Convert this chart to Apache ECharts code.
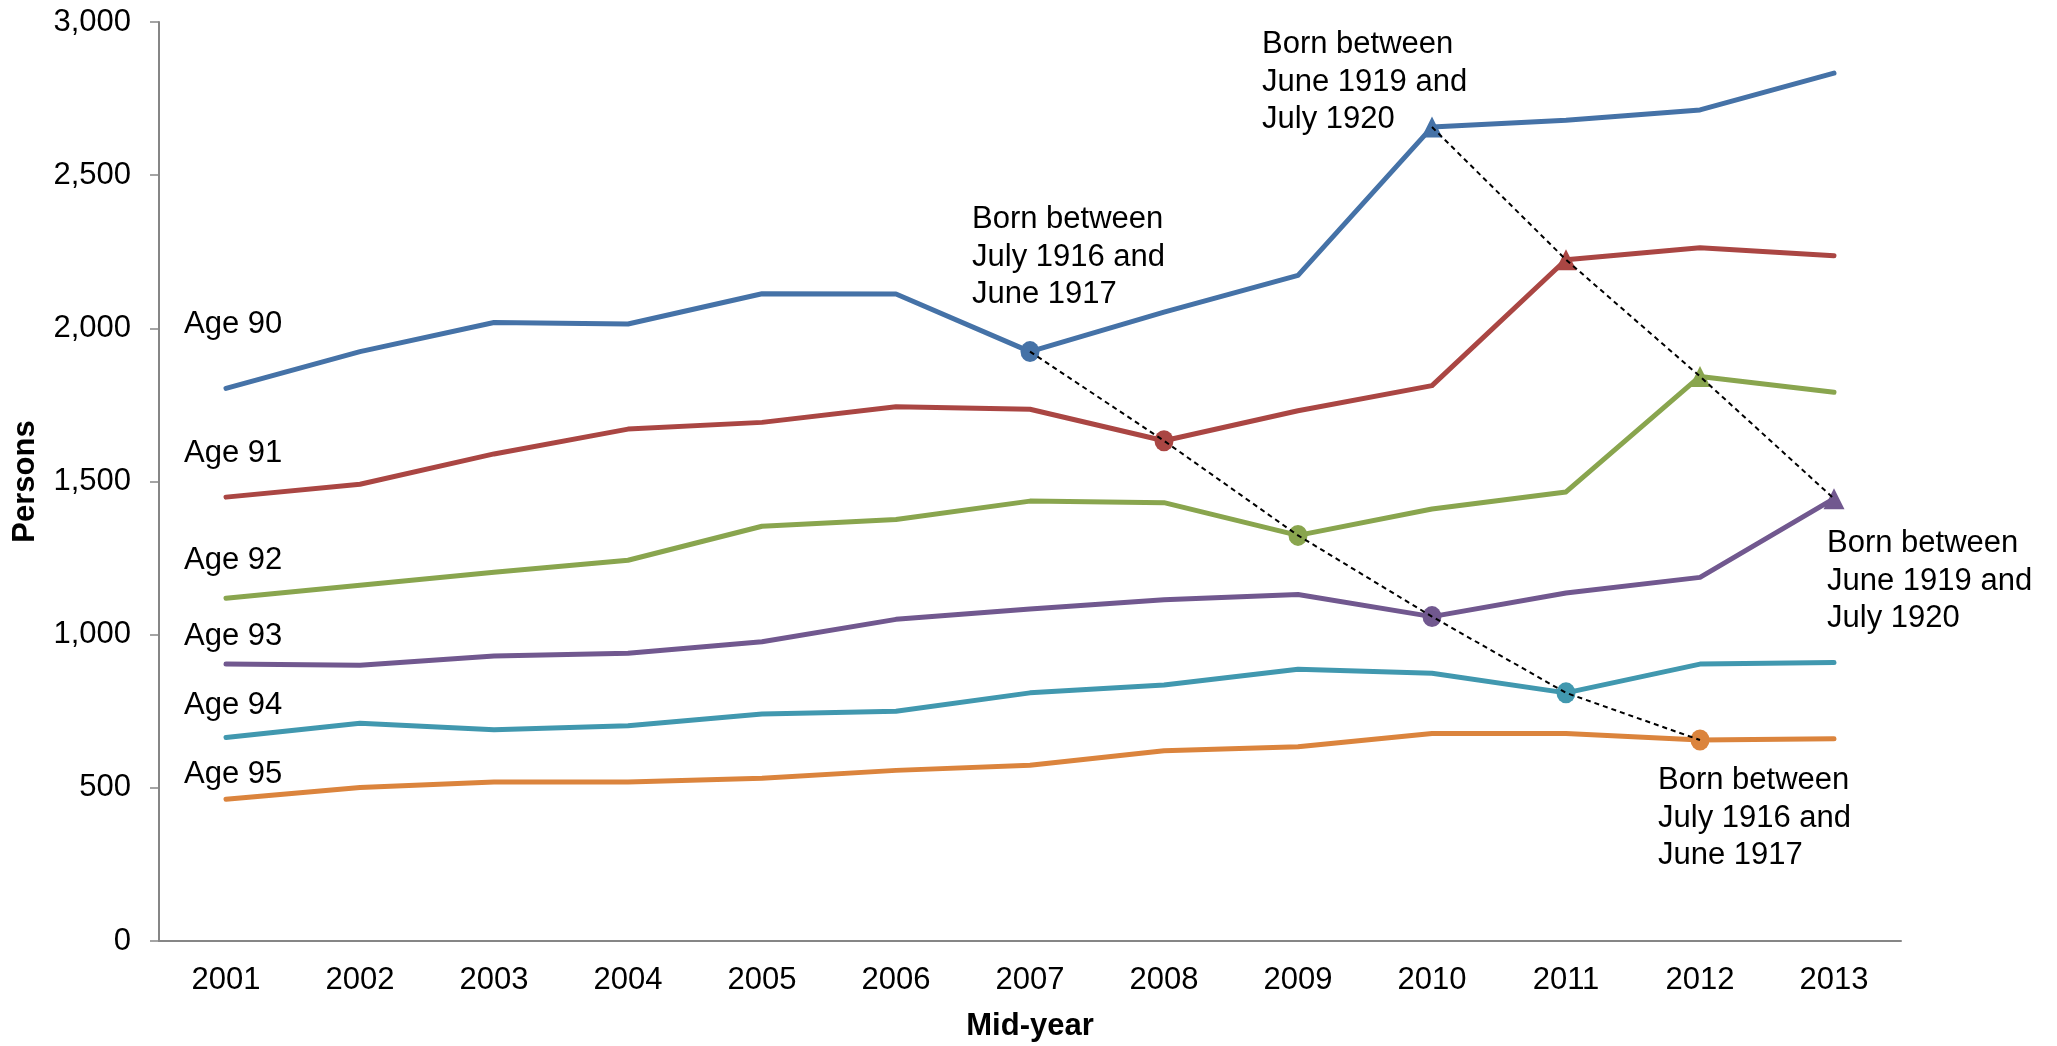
<!DOCTYPE html>
<html>
<head>
<meta charset="utf-8">
<script src="https://cdn.jsdelivr.net/npm/echarts@6/dist/echarts.min.js"></script>
<style>
  html, body { margin: 0; padding: 0; background: #fff; }
  #chart { width: 2057px; height: 1046px; }
</style>
</head>
<body>
<div id="chart"></div>
<script>
// 年份
const years = ['2001', '2002', '2003', '2004', '2005', '2006', '2007', '2008', '2009', '2010', '2011', '2012', '2013']

// 各年龄人数
const age90 = [1804, 1924, 2019, 2014, 2113, 2112, 1924, 2053, 2173, 2657, 2679, 2713, 2833]
const age91 = [1449, 1491, 1590, 1671, 1693, 1744, 1736, 1633, 1731, 1813, 2224, 2263, 2237]
const age92 = [1119, 1161, 1204, 1243, 1354, 1376, 1436, 1431, 1324, 1410, 1466, 1843, 1791]
const age93 = [904, 900, 930, 939, 977, 1050, 1084, 1114, 1131, 1059, 1136, 1187, 1444]
const age94 = [664, 711, 690, 703, 741, 750, 810, 836, 887, 874, 810, 904, 909]
const age95 = [463, 501, 519, 519, 531, 557, 574, 621, 634, 677, 677, 656, 660]

const names = ['Age 90', 'Age 91', 'Age 92', 'Age 93', 'Age 94', 'Age 95']
const colors = ['#4572A7', '#AA4643', '#89A54E', '#71588F', '#4198AF', '#DB843D']
const allSeries = [age90, age91, age92, age93, age94, age95]

// 出生队列：每个年龄在哪一年被标记（年份下标）
const cohort1916 = [6, 7, 8, 9, 10, 11]   // 圆点
const cohort1919 = [9, 10, 11, 12]        // 三角

// 年龄标签相对第一个点的偏移
const ageLabelDy = [-64, -44, -38, -28, -32, -25]

const font = 'Liberation Sans, Arial, sans-serif'
const fs = 31

const lineSeries = allSeries.map((vals, i) => ({
  name: names[i],
  type: 'line',
  symbol: 'circle',
  symbolSize: 0,
  showSymbol: true,
  z: 2,
  lineStyle: { color: colors[i], width: 5, cap: 'round', join: 'round' },
  itemStyle: { color: colors[i] },
  data: vals.map((v, j) => {
    if (j === cohort1916[i]) return { value: v, symbol: 'circle', symbolSize: [19, 21] }
    if (j === cohort1919[i]) return { value: v, symbol: 'triangle', symbolSize: [21, 21] }
    return v
  })
}))

// 虚线把同一队列的点连起来
const cohortLine = (idxs) => {
  const data = years.map(() => null)
  idxs.forEach((k, i) => { data[k] = allSeries[i][k] })
  return {
    type: 'line',
    symbol: 'none',
    z: 3,
    connectNulls: false,
    lineStyle: { color: '#000', width: 2, type: [5, 4] },
    data
  }
}

const chart = echarts.init(document.getElementById('chart'))

chart.setOption({
  animation: false,
  backgroundColor: '#fff',
  textStyle: { fontFamily: font },
  grid: { left: 159, right: 156, top: 22, bottom: 105, outerBoundsMode: 'none', containLabel: false },
  xAxis: {
    type: 'category',
    data: years,
    boundaryGap: true,
    name: 'Mid-year',
    nameLocation: 'middle',
    nameGap: 70,
    nameTextStyle: { fontSize: fs, fontWeight: 'bold', color: '#000', fontFamily: font },
    axisLine: { lineStyle: { color: '#868686', width: 2 } },
    axisTick: { alignWithLabel: false, length: 11, lineStyle: { color: '#868686', width: 1.5 } },
    axisLabel: { fontSize: fs, color: '#000', margin: 24, fontFamily: font }
  },
  yAxis: {
    type: 'value',
    min: 0,
    max: 3000,
    interval: 500,
    name: 'Persons',
    nameLocation: 'middle',
    nameGap: 118,
    nameRotate: 90,
    nameTextStyle: { fontSize: fs, fontWeight: 'bold', color: '#000', fontFamily: font },
    splitLine: { show: false },
    axisLine: { show: true, lineStyle: { color: '#868686', width: 2 } },
    axisTick: { show: true, length: 9, lineStyle: { color: '#868686', width: 1.5 } },
    axisLabel: {
      fontSize: fs, color: '#000', margin: 28, fontFamily: font,
      formatter: (v) => v.toLocaleString('en-US')
    }
  },
  series: [...lineSeries, cohortLine(cohort1916), cohortLine(cohort1919)]
})

// 文字注释
const textStyle = { fontSize: fs, fontFamily: font, fill: '#000' }
const graphics = []
allSeries.forEach((vals, i) => {
  const p = chart.convertToPixel({ gridIndex: 0 }, [years[0], vals[0]])
  graphics.push({
    type: 'text', x: 184, y: p[1] + ageLabelDy[i],
    style: Object.assign({ text: names[i], textVerticalAlign: 'middle' }, textStyle)
  })
})
const notes = [
  { x: 972, y: 201, text: 'Born between\nJuly 1916 and\nJune 1917' },
  { x: 1262, y: 26, text: 'Born between\nJune 1919 and\nJuly 1920' },
  { x: 1827, y: 525, text: 'Born between\nJune 1919 and\nJuly 1920' },
  { x: 1658, y: 762, text: 'Born between\nJuly 1916 and\nJune 1917' }
]
notes.forEach(n => {
  graphics.push({
    type: 'text', x: n.x, y: n.y,
    style: Object.assign({ text: n.text, lineHeight: 37.5 }, textStyle)
  })
})
chart.setOption({ graphic: graphics })
</script>
</body>
</html>
